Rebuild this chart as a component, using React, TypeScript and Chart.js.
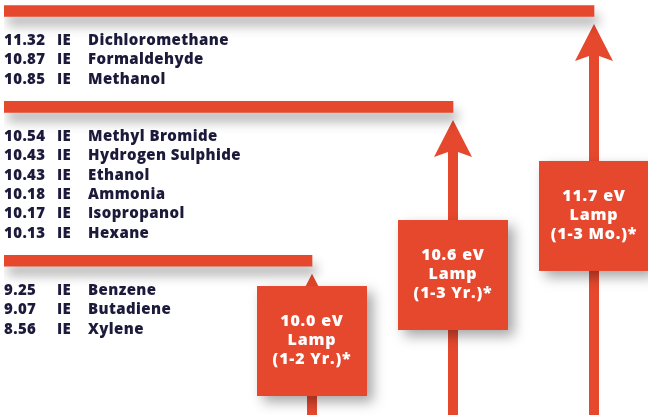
import React, { useEffect, useRef } from 'react';
import { Chart, registerables } from 'chart.js';

Chart.register(...registerables);

// ---------------- data ----------------
const lampLabels = ['11.7 eV', '10.6 eV', '10.0 eV'];
const lampWord = ['Lamp', 'Lamp', 'Lamp'];
const lampLife = ['(1-3 Mo.)*', '(1-3 Yr.)*', '(1-2 Yr.)*'];
const lampSlot = [2, 1, 0];

const names117 = ['Dichloromethane', 'Formaldehyde', 'Methanol'];
const ie117 = [11.32, 10.87, 10.85];
const names106 = ['Methyl Bromide', 'Hydrogen Sulphide', 'Ethanol', 'Ammonia', 'Isopropanol', 'Hexane'];
const ie106 = [10.54, 10.43, 10.43, 10.18, 10.17, 10.13];
const names100 = ['Benzene', 'Butadiene', 'Xylene'];
const ie100 = [9.25, 9.07, 8.56];
const ieTag = 'IE';

const groups = [
  { names: names117, ie: ie117 },
  { names: names106, ie: ie106 },
  { names: names100, ie: ie100 },
];

// ---------------- layout / style ----------------
const W = 648;
const H = 415;
const RED = '#e6482e';
const NAVY = '#1c1a3a';
const ROW_PX = 19.3;
const TOP_BAR_PX = 11;
const FIRST_ROW_GAP = 1.55;
const BAR_GAP = 1.42;
const LAMP_PX = 141;
const LEFT_PAD = 4;
const FIRST_LAMP_PX = 312;
const BOX_CENTER_ROWS = [10.62, 13.68, 17.1];
const BOX_SIZE = 110;
const COL_IE = 53;
const COL_NAME = 84;
const FONT = '"Open Sans", "DejaVu Sans", sans-serif';

const barRows: number[] = [];
const compoundRows: number[][] = [];
{
  let r = 0;
  groups.forEach((g) => {
    barRows.push(r);
    const rows = g.names.map((_, k) => r + FIRST_ROW_GAP + k);
    compoundRows.push(rows);
    r = rows[rows.length - 1] + BAR_GAP;
  });
}

const xMin = -(FIRST_LAMP_PX - LEFT_PAD) / LAMP_PX;
const xMax = (W - FIRST_LAMP_PX) / LAMP_PX;
const yMin = -TOP_BAR_PX / ROW_PX;
const yMax = (H - TOP_BAR_PX) / ROW_PX;

const setSpacing = (ctx: any, v: string) => {
  try {
    ctx.letterSpacing = v;
  } catch (e) {
    /* ignore */
  }
};

const infoPlugin = {
  id: 'info',
  beforeDatasetsDraw(chart: any) {
    const { ctx, scales } = chart;
    const x = scales.x;
    const y = scales.y;
    lampSlot.forEach((slot, i) => {
      const cx = x.getPixelForValue(slot);
      const barY = y.getPixelForValue(barRows[i]);
      const tipY = barY + 13;
      const headH = 37;
      const headW = 19;
      const notch = 5;
      const shaftHalf = 5;
      ctx.save();
      ctx.fillStyle = RED;
      ctx.beginPath();
      ctx.moveTo(cx, tipY);
      ctx.lineTo(cx + headW, tipY + headH);
      ctx.lineTo(cx + shaftHalf, tipY + headH - notch);
      ctx.lineTo(cx + shaftHalf, H);
      ctx.lineTo(cx - shaftHalf, H);
      ctx.lineTo(cx - shaftHalf, tipY + headH - notch);
      ctx.lineTo(cx - headW, tipY + headH);
      ctx.closePath();
      ctx.fill();
      ctx.restore();
    });
    lampSlot.forEach((slot, i) => {
      const cx = x.getPixelForValue(slot);
      const cy = y.getPixelForValue(BOX_CENTER_ROWS[i]);
      ctx.save();
      ctx.shadowColor = 'rgba(0,0,0,0.35)';
      ctx.shadowBlur = 12;
      ctx.shadowOffsetX = 6;
      ctx.shadowOffsetY = 6;
      ctx.fillStyle = RED;
      ctx.fillRect(cx - BOX_SIZE / 2, cy - BOX_SIZE / 2, BOX_SIZE, BOX_SIZE);
      ctx.restore();
    });
  },
  beforeDatasetDraw(chart: any) {
    const ctx = chart.ctx;
    ctx.save();
    ctx.shadowColor = 'rgba(0,0,0,0.3)';
    ctx.shadowBlur = 12;
    ctx.shadowOffsetX = 4;
    ctx.shadowOffsetY = 9;
  },
  afterDatasetDraw(chart: any) {
    chart.ctx.restore();
  },
  afterDatasetsDraw(chart: any) {
    const { ctx, scales, chartArea } = chart;
    const x = scales.x;
    const y = scales.y;
    ctx.save();
    ctx.textBaseline = 'middle';
    ctx.fillStyle = NAVY;
    ctx.font = `800 15px ${FONT}`;
    setSpacing(ctx, '0.4px');
    ctx.textAlign = 'left';
    groups.forEach((g, gi) => {
      g.names.forEach((name, k) => {
        const py = y.getPixelForValue(compoundRows[gi][k]);
        ctx.fillText(g.ie[k].toFixed(2), chartArea.left, py);
        ctx.fillText(ieTag, chartArea.left + COL_IE, py);
        ctx.fillText(name, chartArea.left + COL_NAME, py);
      });
    });
    ctx.fillStyle = '#ffffff';
    ctx.textAlign = 'center';
    ctx.font = `800 16px ${FONT}`;
    setSpacing(ctx, '0.8px');
    lampSlot.forEach((slot, i) => {
      const cx = x.getPixelForValue(slot);
      const cy = y.getPixelForValue(BOX_CENTER_ROWS[i]);
      ctx.fillText(lampLabels[i], cx, cy - 20);
      ctx.fillText(lampWord[i], cx, cy - 1);
      ctx.fillText(lampLife[i], cx, cy + 18);
    });
    ctx.restore();
  },
};

export default function App() {
  const ref = useRef<HTMLCanvasElement | null>(null);
  useEffect(() => {
    if (!ref.current) return;
    const chart = new Chart(ref.current, {
      type: 'bar',
      data: {
        datasets: [
          {
            label: 'Lamp range',
            data: barRows.map((row, i) => ({ x: [xMin, lampSlot[i]], y: row })) as any,
            backgroundColor: RED,
            borderWidth: 0,
            borderSkipped: false,
            barThickness: 11,
          },
        ],
      },
      options: {
        indexAxis: 'y',
        responsive: false,
        animation: false,
        layout: { padding: { left: LEFT_PAD, right: 0, top: 0, bottom: 0 } },
        scales: {
          x: { type: 'linear', min: xMin, max: xMax, display: false, offset: false, grace: 0 },
          y: { type: 'linear', min: yMin, max: yMax, reverse: true, display: false, offset: false, grace: 0 },
        },
        plugins: { legend: { display: false }, tooltip: { enabled: false } },
      },
      plugins: [infoPlugin],
    });
    return () => chart.destroy();
  }, []);
  return (
    <div style={{ position: 'fixed', left: 0, top: 0, width: W, height: H, background: '#fff' }}>
      <canvas ref={ref} width={W} height={H} style={{ display: 'block' }} />
    </div>
  );
}
